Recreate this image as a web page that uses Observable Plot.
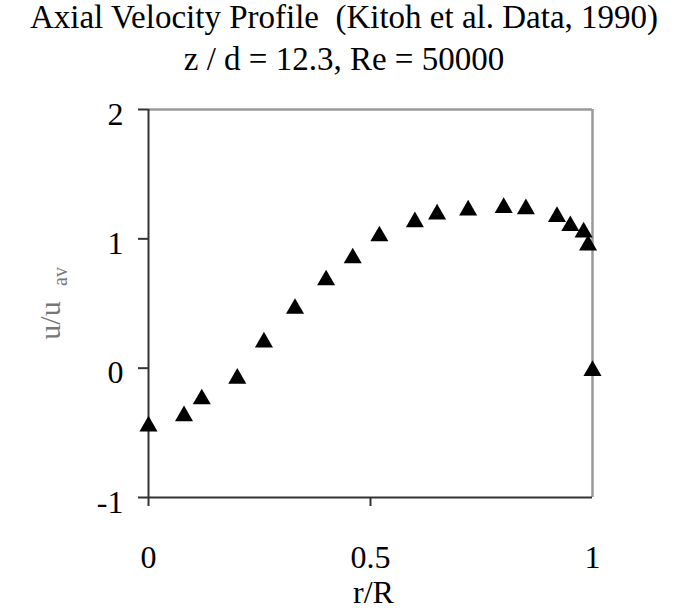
<!DOCTYPE html>
<html>
<head>
<meta charset="utf-8">
<script src="https://cdn.jsdelivr.net/npm/d3@7"></script>
<script src="https://cdn.jsdelivr.net/npm/@observablehq/plot@0.6"></script>
<style>
  html, body { margin: 0; padding: 0; background: white; }
  #wrap { width: 688px; height: 612px; overflow: hidden; }
  #titles { height: 80px; font-family: "Liberation Serif", serif; font-size: 33px; color: #000; text-align: center; }
  #titles div { line-height: 42px; white-space: pre; position: relative; top: -4px; }
  svg { display: block; }
</style>
</head>
<body>
<div id="wrap">
  <div id="titles">
    <div>Axial Velocity Profile  (Kitoh et al. Data, 1990)</div>
    <div>z / d = 12.3, Re = 50000</div>
  </div>
  <div id="chart"></div>
</div>
<script>
const rR = [0, 0.08, 0.12, 0.20, 0.26, 0.33, 0.40, 0.46, 0.52, 0.60, 0.65, 0.72, 0.80, 0.85, 0.92, 0.95, 0.98, 0.99, 1.0];
const uRatio = [-0.43, -0.35, -0.22, -0.06, 0.22, 0.48, 0.70, 0.87, 1.04, 1.15, 1.21, 1.24, 1.26, 1.25, 1.19, 1.12, 1.07, 0.97, 0.0];
const xTicks = [0, 0.5, 1];
const xTickMarks = [0, 0.5];
const yTicks = [-1, 0, 1, 2];
const xLabel = "r/R";
const yLabelMain = "u/u";
const yLabelSub = "av";

const data = rR.map((r, i) => ({r, u: uRatio[i]}));

const chart = Plot.plot({
  width: 688,
  height: 532,
  marginLeft: 148,
  marginRight: 96,
  marginTop: 29,
  marginBottom: 115,
  x: {domain: [0, 1]},
  y: {domain: [-1, 2]},
  style: {fontFamily: "Liberation Serif", fontSize: "32px", color: "#000", background: "white"},
  marks: [
    Plot.ruleY([2], {stroke: "#999", strokeWidth: 2.5}),
    Plot.ruleX([1], {stroke: "#999", strokeWidth: 2.5}),
    Plot.axisY({ticks: yTicks, tickSize: 10, tickFormat: () => "", label: null, stroke: "#333", strokeWidth: 2}),
    Plot.axisY({ticks: yTicks, tickSize: 0, tickPadding: 25, tickFormat: d => String(d), label: null, dy: 5, fill: "#000"}),
    Plot.axisX({ticks: xTickMarks, tickSize: 9, tickFormat: () => "", label: null, stroke: "#333", strokeWidth: 2}),
    Plot.axisX({ticks: xTicks, tickSize: 0, tickPadding: 48, tickFormat: d => String(d), label: null, fill: "#000"}),
    Plot.ruleX([0], {stroke: "#333", strokeWidth: 2}),
    Plot.ruleY([-1], {stroke: "#333", strokeWidth: 2}),
    Plot.dot(data, {x: "r", y: "u", symbol: "triangle", r: 6.7, dy: 2.5, fill: "black", stroke: "none"}),
    Plot.text([xLabel], {text: d => d, frameAnchor: "bottom", textAnchor: "middle", lineAnchor: "middle", dx: 3, dy: 95, fontSize: 32, fill: "#000"}),
    Plot.text([yLabelMain], {text: d => d, frameAnchor: "left", textAnchor: "middle", lineAnchor: "middle", rotate: -90, dx: -98, dy: 17, fontSize: 30, fill: "#777"}),
    Plot.text([yLabelSub], {text: d => d, frameAnchor: "left", textAnchor: "middle", lineAnchor: "middle", rotate: -90, dx: -88, dy: -27, fontSize: 20, fill: "#777"})
  ]
});
document.getElementById("chart").appendChild(chart);
</script>
</body>
</html>
